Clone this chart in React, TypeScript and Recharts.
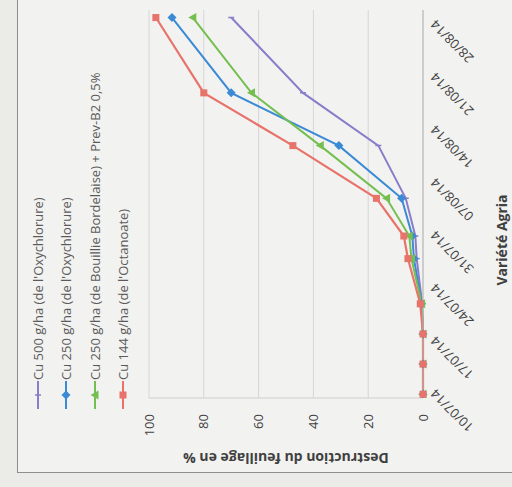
import React from "react";
import { LineChart, Line, XAxis, YAxis, CartesianGrid, Legend } from "recharts";

// sampling dates (dd/mm/yy)
const dates = ["10/07/14", "14/07/14", "18/07/14", "22/07/14", "28/07/14", "31/07/14", "05/08/14", "12/08/14", "19/08/14", "29/08/14"];

// % leaf destruction per treatment
const cu500Oxy = [0, 0, 0, 0.3, 2.3, 2.8, 6.3, 16.3, 43.8, 70];
const cu250Oxy = [0, 0, 0, 0.5, 3.3, 3.9, 7.8, 30.7, 70, 91.6];
const cu250Bb = [0, 0, 0, 0.5, 4.2, 5, 13.3, 37.5, 62.6, 84];
const cu144Oct = [0, 0, 0, 1, 5.5, 7, 17, 47.5, 80, 97.5];

const seriesNames = [
  "Cu 500 g/ha (de l'Oxychlorure)",
  "Cu 250 g/ha (de l'Oxychlorure)",
  "Cu 250 g/ha (de Bouillie Bordelaise) + Prev-B2 0,5%",
  "Cu 144 g/ha (de l'Octanoate)",
];

const dateTicks = ["10/07/14", "17/07/14", "24/07/14", "31/07/14", "07/08/14", "14/08/14", "21/08/14", "28/08/14"];
const valueTicks = [0, 20, 40, 60, 80, 100];

const COLORS = ["#8a7dc9", "#3b8ad6", "#74bf50", "#e8736b"];
const FONT = "'Open Sans', sans-serif";

const DAY = 86400000;
const toTime = (s: string) => {
  const [d, m, y] = s.split("/").map(Number);
  return Date.UTC(2000 + y, m - 1, d);
};
const t0 = toTime(dates[0]);
const toDay = (s: string) => Math.round((toTime(s) - t0) / DAY);

const data = dates.map((d, i) => ({
  day: toDay(d),
  a: cu500Oxy[i],
  b: cu250Oxy[i],
  c: cu250Bb[i],
  d: cu144Oct[i],
}));

const tickLabel: Record<number, string> = {};
dateTicks.forEach((t) => (tickLabel[toDay(t)] = t));

const Marker = ({ shape, x, y, color }: { shape: string; x: number; y: number; color: string }) => {
  if (shape === "square") return <rect x={x - 3.5} y={y - 3.5} width={7} height={7} fill={color} />;
  if (shape === "diamond") return <polygon points={`${x},${y - 4.5} ${x + 4.5},${y} ${x},${y + 4.5} ${x - 4.5},${y}`} fill={color} />;
  if (shape === "triangle") return <polygon points={`${x},${y - 4.5} ${x + 4.5},${y + 3.5} ${x - 4.5},${y + 3.5}`} fill={color} />;
  return <line x1={x} y1={y - 3} x2={x} y2={y + 3} stroke={color} strokeWidth={1.5} />;
};

const SHAPES = ["dash", "diamond", "triangle", "square"];

const makeDot = (idx: number) => (p: any) => (
  <g key={`dot-${idx}-${p.index}`}>
    <Marker shape={SHAPES[idx]} x={p.cx} y={p.cy} color={COLORS[idx]} />
  </g>
);

const LegendBox = () => (
  <div style={{ fontFamily: FONT, fontSize: 13, color: "#5a5a5a" }}>
    {seriesNames.map((n, i) => (
      <div key={n} style={{ display: "flex", alignItems: "center", height: 28.3, whiteSpace: "nowrap" }}>
        <svg width={28} height={10}>
          <line x1={0} y1={5} x2={28} y2={5} stroke={COLORS[i]} strokeWidth={2} />
          <Marker shape={SHAPES[i]} x={14} y={5} color={COLORS[i]} />
        </svg>
        <span style={{ marginLeft: 1 }}>{n}</span>
      </div>
    ))}
  </div>
);

const DateTick = (props: any) => {
  const { x, y, payload } = props;
  return (
    <text
      x={x + 3}
      y={y}
      transform={`rotate(-45 ${x + 3} ${y})`}
      textAnchor="end"
      dy="0.35em"
      fill="#404040"
      fontSize={13}
      fontFamily={FONT}
    >
      {tickLabel[payload.value] ?? ""}
    </text>
  );
};

export default function App() {
  return (
    <div style={{ position: "fixed", left: 0, top: 0, width: 512, height: 487, overflow: "hidden", background: "#ebebe8" }}>
      <div
        style={{
          position: "absolute",
          left: 0,
          top: 0,
          width: 487,
          height: 512,
          transformOrigin: "0 0",
          transform: "translate(0px, 487px) rotate(-90deg)",
        }}
      >
        <div
          style={{
            position: "absolute",
            left: 14,
            top: 17,
            width: 473,
            height: 495,
            boxSizing: "border-box",
            borderTop: "1px solid #8e8e8e",
            borderLeft: "1px solid #8e8e8e",
            background: "#f2f2f0",
          }}
        />
        <div style={{ position: "absolute", left: 14, top: 17 }}>
          <LineChart width={473} height={495} data={data} margin={{ top: 132, right: 10, bottom: 0, left: 0 }}>
            <CartesianGrid vertical={false} stroke="#d6d6d6" />
            <XAxis
              type="number"
              dataKey="day"
              domain={[-0.5, 51]}
              allowDataOverflow
              ticks={dateTicks.map(toDay)}
              interval={0}
              height={89}
              stroke="#b5b5b5"
              tickLine={false}
              tickSize={6}
              tickMargin={4}
              tick={<DateTick />}
              label={{
                content: () => (
                  <text x={233} y={484} textAnchor="middle" dominantBaseline="central" fill="#404040" fontSize={14} fontWeight="bold" fontFamily={FONT}>
                    Variété Agria
                  </text>
                ),
              }}
            />
            <YAxis
              type="number"
              domain={[0, 100]}
              ticks={valueTicks}
              width={75}
              stroke="#d0d0d0"
              tickLine={false}
              tickSize={6}
              tickMargin={10}
              tick={{ fill: "#404040", fontSize: 13, fontFamily: FONT }}
              label={{
                content: () => (
                  <text
                    x={15}
                    y={269}
                    transform="rotate(-90 15 269)"
                    textAnchor="middle"
                    dominantBaseline="central"
                    fill="#404040"
                    fontSize={14}
                    fontWeight="bold"
                    fontFamily={FONT}
                  >
                    Destruction du feuillage en %
                  </text>
                ),
              }}
            />
            <Legend
              layout="vertical"
              align="center"
              verticalAlign="middle"
              content={<LegendBox />}
              wrapperStyle={{ left: 64, top: 7, width: 400 }}
            />
            <Line dataKey="a" name={seriesNames[0]} stroke={COLORS[0]} strokeWidth={2} dot={makeDot(0)} isAnimationActive={false} />
            <Line dataKey="b" name={seriesNames[1]} stroke={COLORS[1]} strokeWidth={2} dot={makeDot(1)} isAnimationActive={false} />
            <Line dataKey="c" name={seriesNames[2]} stroke={COLORS[2]} strokeWidth={2} dot={makeDot(2)} isAnimationActive={false} />
            <Line dataKey="d" name={seriesNames[3]} stroke={COLORS[3]} strokeWidth={2.2} dot={makeDot(3)} isAnimationActive={false} />
          </LineChart>
        </div>
      </div>
    </div>
  );
}
